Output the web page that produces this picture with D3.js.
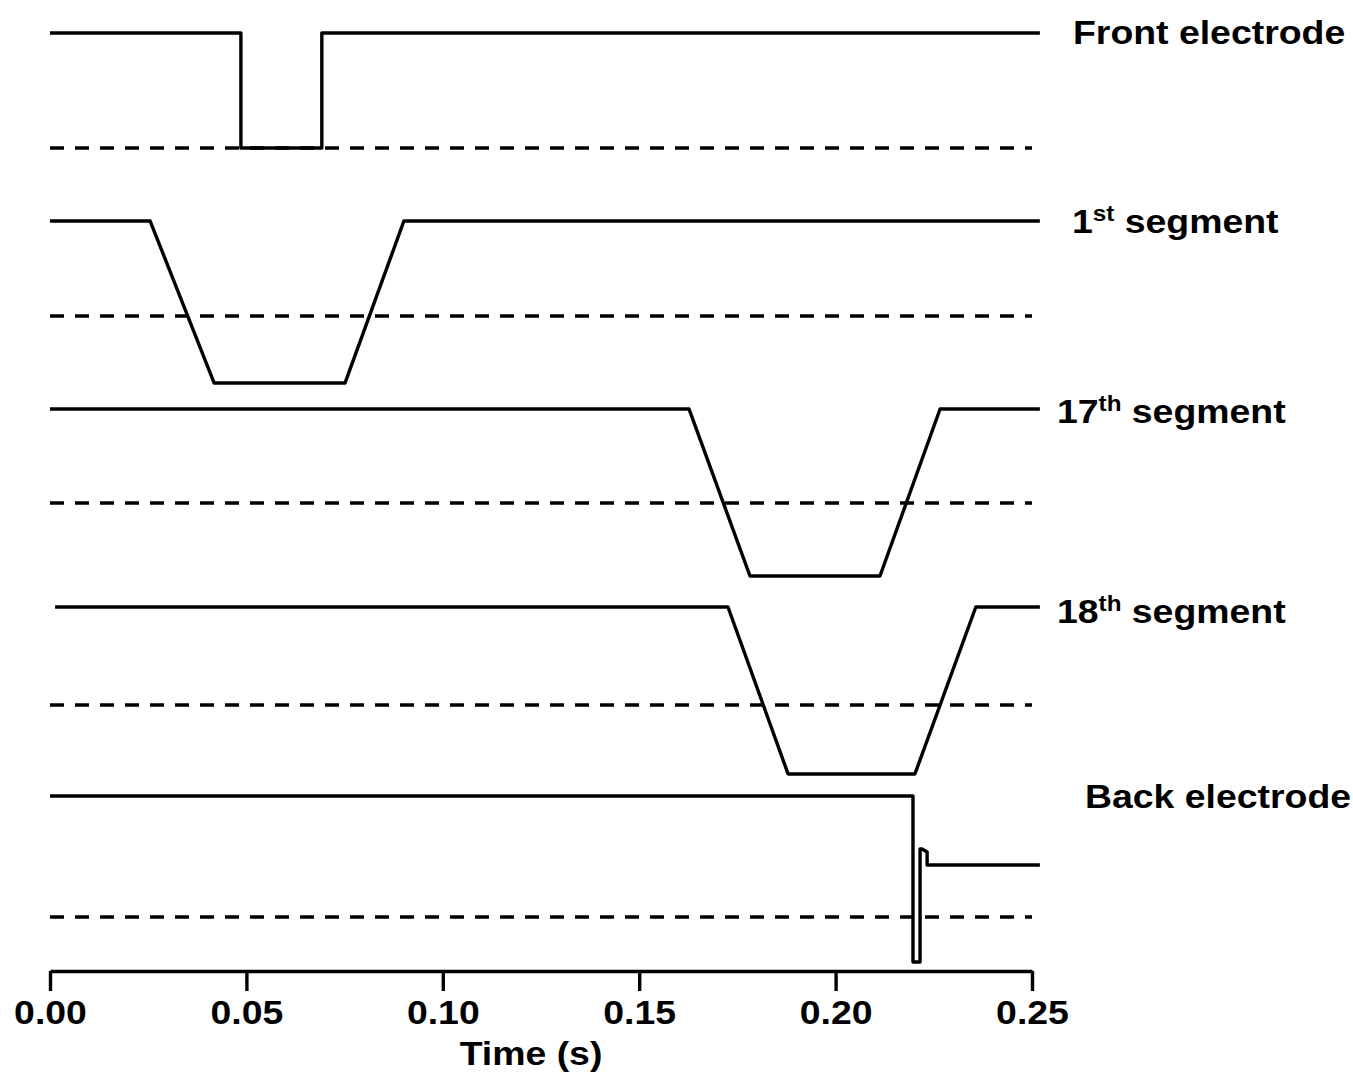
<!DOCTYPE html>
<html>
<head>
<meta charset="utf-8">
<script src="https://cdn.jsdelivr.net/npm/d3@7"></script>
<style>
	body { margin: 0; background: #fff; }
	svg text { font-family: "Liberation Sans", Arial, sans-serif; font-weight: bold; fill: #000; }
</style>
</head>
<body>
<script>

// trace names, as shown at the right of each trace
var traceNames = ['Front electrode', '1st segment', '17th segment', '18th segment', 'Back electrode'];

// zero level of every trace, stacked (arbitrary units)
var baseLevels = [0, -1.461, -3.087, -4.843, -6.687];

// time (s) and amplitude (relative to its own zero level) of each trace
var frontTime  = [0, 0.0486, 0.0486, 0.0692, 0.0692, 0.252];
var frontValue = [1, 1, 0, 0, 1, 1];

var seg1Time  = [0, 0.0255, 0.0418, 0.0751, 0.0901, 0.252];
var seg1Value = [0.826, 0.826, -0.583, -0.583, 0.826, 0.826];

var seg17Time  = [0, 0.1627, 0.1782, 0.2113, 0.2266, 0.252];
var seg17Value = [0.817, 0.817, -0.635, -0.635, 0.817, 0.817];

var seg18Time  = [0.0013, 0.1726, 0.1879, 0.2202, 0.2357, 0.252];
var seg18Value = [0.852, 0.852, -0.600, -0.600, 0.852, 0.852];

var backTime  = [0, 0.2197, 0.2197, 0.2215, 0.2215, 0.2220, 0.2233, 0.2233, 0.252];
var backValue = [1.052, 1.052, -0.391, -0.391, 0.591, 0.591, 0.565, 0.452, 0.452];

// axis ticks
var tickValues = [0, 0.05, 0.10, 0.15, 0.20, 0.25];
var xDomain = [0, 0.25];

var traces = [
	{ time: frontTime, value: frontValue },
	{ time: seg1Time,  value: seg1Value },
	{ time: seg17Time, value: seg17Value },
	{ time: seg18Time, value: seg18Value },
	{ time: backTime,  value: backValue }
];

// ------------------------ LAYOUT ------------------------
var WIDTH = 1353, HEIGHT = 1076;
var LEFT = 50, RIGHT = 1032;
var AXIS_Y = 971;
var STRETCH = 1.1;   // text in the original is slightly wider than the font
var FONT = '34px';
var LW = 3.4;

// label position (left edge, baseline) per trace
var labelPos = [[1073, 44], [1072, 233], [1057, 423], [1057, 623], [1085, 808]];

var x = d3.scaleLinear().domain(xDomain).range([LEFT, RIGHT]);
var y = d3.scaleLinear().domain([baseLevels[0], baseLevels[4]]).range([148, 917]);

var svg = d3.select('body')
	.append('svg')
	.attr('width', WIDTH)
	.attr('height', HEIGHT);

// ------------------------ DASHED ZERO LINES ------------------------
svg.selectAll('.zero')
	.data(baseLevels)
	.enter()
	.append('line')
	.attr('class', 'zero')
	.attr('x1', x(xDomain[0]))
	.attr('x2', x(xDomain[1]))
	.attr('y1', function(d) { return y(d) })
	.attr('y2', function(d) { return y(d) })
	.attr('stroke', '#000')
	.attr('stroke-width', LW)
	.attr('stroke-dasharray', '14,11');

// ------------------------ TRACES ------------------------
var line = d3.line()
	.x(function(p) { return x(p[0]) })
	.y(function(p) { return y(p[1]) });

svg.selectAll('.trace')
	.data(traces)
	.enter()
	.append('path')
	.attr('class', 'trace')
	.attr('d', function(d, i) {
		var pts = d.time.map(function(t, k) { return [t, baseLevels[i] + d.value[k]] });
		return line(pts);
	})
	.attr('fill', 'none')
	.attr('stroke', '#000')
	.attr('stroke-width', LW)
	.attr('stroke-linejoin', 'round');

// ------------------------ TRACE LABELS ------------------------
// split "1st segment" into number, superscript and rest
var labels = svg.selectAll('.label')
	.data(traceNames)
	.enter()
	.append('text')
	.attr('class', 'label')
	.attr('transform', function(d, i) {
		return 'translate(' + labelPos[i][0] + ',' + labelPos[i][1] + ') scale(' + STRETCH + ',1)'
	})
	.style('font-size', FONT);

labels.each(function(d) {
	var el = d3.select(this);
	var m = d.match(/^(\d+)(st|nd|rd|th)( .*)$/);
	if (!m) { el.text(d); return; }
	el.append('tspan').text(m[1]);
	el.append('tspan').attr('dy', -12).style('font-size', '22px').text(m[2]);
	el.append('tspan').attr('dy', 12).text(m[3].replace(' ', '\u00a0'));
});

// ------------------------ TIME AXIS ------------------------
var axis = svg.append('g')
	.attr('transform', 'translate(0,' + AXIS_Y + ')')
	.call(d3.axisBottom(x)
		.tickValues(tickValues)
		.tickFormat(d3.format('.2f'))
		.tickSize(20)
		.tickSizeOuter(0));

axis.select('.domain').attr('stroke', '#000').attr('stroke-width', LW);
axis.selectAll('.tick line').attr('stroke', '#000').attr('stroke-width', LW);
axis.selectAll('.tick text')
	.attr('y', 0)
	.attr('dy', 0)
	.attr('transform', 'translate(0,53) scale(' + STRETCH + ',1)')
	.style('font-size', FONT)
	.style('font-family', '"Liberation Sans", Arial, sans-serif')
	.style('font-weight', 'bold')
	.attr('fill', '#000');

svg.append('text')
	.attr('text-anchor', 'middle')
	.attr('transform', 'translate(531,1065) scale(' + STRETCH + ',1)')
	.style('font-size', FONT)
	.text('Time (s)');

</script>
</body>
</html>
